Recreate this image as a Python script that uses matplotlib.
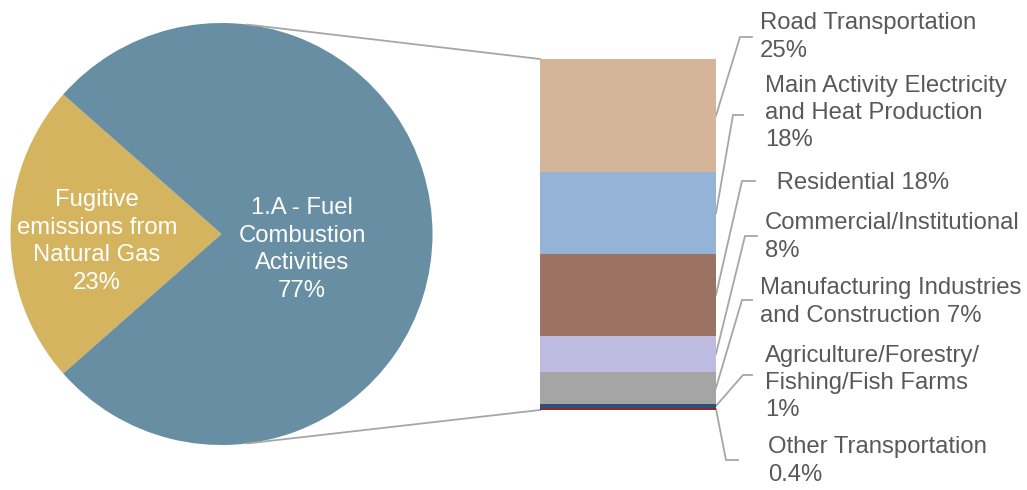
import matplotlib
matplotlib.use("Agg")
import matplotlib.pyplot as plt
import numpy as np

plt.rcParams['font.family'] = ['Liberation Sans', 'DejaVu Sans']

# Pie: share of emissions by main source category
pie_labels = ["Fugitive\nemissions from\nNatural Gas\n23%",
              "1.A - Fuel\nCombustion\nActivities\n77%"]
pie_values = [23, 77]
pie_colors = ["#D4B45E", "#678EA3"]

# Bar: breakdown of fuel combustion (percent of total), top to bottom
bar_labels = ["Road Transportation\n25%",
              "Main Activity Electricity\nand Heat Production\n18%",
              " Residential 18%",
              "Commercial/Institutional\n8%",
              "Manufacturing Industries\nand Construction 7%",
              "Agriculture/Forestry/\nFishing/Fish Farms\n1%",
              "Other Transportation\n0.4%"]
bar_values = [25, 18, 18, 8, 7, 1, 0.4]
bar_colors = ["#D4B59A", "#95B3D7", "#9C7265", "#BDBBDF", "#A5A5A5",
              "#2E5077", "#8E2B24"]

W, H = 1027, 490
fig = plt.figure(figsize=(W / 100, H / 100), dpi=100)

# overlay axes in pixel coordinates
ov = fig.add_axes([0, 0, 1, 1])

# pie
cx, cy, r = 221.5, 234, 211
start = 180 - pie_values[0] / sum(pie_values) * 360 / 2
wedges, texts = ov.pie(pie_values, colors=pie_colors, startangle=start,
                       center=(cx, cy), radius=r, frame=True,
                       labels=pie_labels, labeldistance=None,
                       wedgeprops=dict(linewidth=0))
ov.set_xlim(0, W)
ov.set_ylim(H, 0)
ov.set_aspect("equal")
ov.axis("off")

FS = 17.2
LS = 1.32
label_pos = [(97, 241.5), (302, 249.5)]
for lab, (x, y) in zip(pie_labels, label_pos):
    ov.text(x, y, lab, ha="center", va="center", color="white",
            fontsize=FS, linespacing=LS)

# stacked bar
bl, bt, bw, bb = 540, 59, 176, 410
bax = fig.add_axes([bl / W, (H - bb) / H, bw / W, (bb - bt) / H])
total = sum(bar_values)
bax.set_xlim(-0.5, 0.5)
bax.set_ylim(0, total)
bax.axis("off")
bottom = total
mids = []
for v, c in zip(bar_values, bar_colors):
    bottom -= v
    bax.bar(0, v, bottom=bottom, width=1.0, color=c, linewidth=0)
    mids.append(bottom + v / 2)

to_px = lambda ax, pt: ov.transData.inverted().transform(ax.transData.transform(pt))

# connector lines from pie to bar
ang = np.deg2rad(83)
p_top = (cx + r * np.cos(ang), cy - r * np.sin(ang))
p_bot = (cx + r * np.cos(ang), cy + r * np.sin(ang))
b_top = to_px(bax, (-0.5, total))
b_bot = to_px(bax, (-0.5, 0))
lc = "#A6A6A6"
ov.plot([p_top[0], b_top[0]], [p_top[1], b_top[1]], color=lc, lw=1.3)
ov.plot([p_bot[0], b_bot[0]], [p_bot[1], b_bot[1]], color=lc, lw=1.3)

# labels with leader lines
# (elbow x, elbow y, horizontal end x, text x, text y)
leaders = [(740, 37, 752, 760, 37),
           (733, 115, 743, 765, 113),
           (742, 181, 755, 770, 183),
           (745, 236, 757, 765, 237),
           (742, 300, 752, 760, 302),
           (743, 375, 752, 765, 383),
           (726, 460, 738, 768, 461)]
for lab, m, (ex, ey, hx, tx, ty) in zip(bar_labels, mids, leaders):
    sx, sy = to_px(bax, (0.5, m))
    ov.plot([sx, ex, hx], [sy, ey, ey], color=lc, lw=1.3,
            solid_joinstyle="miter")
    ov.text(tx, ty, lab, ha="left", va="center", color="#595959",
            fontsize=FS, linespacing=LS)

fig.savefig("out.png", dpi=100)
